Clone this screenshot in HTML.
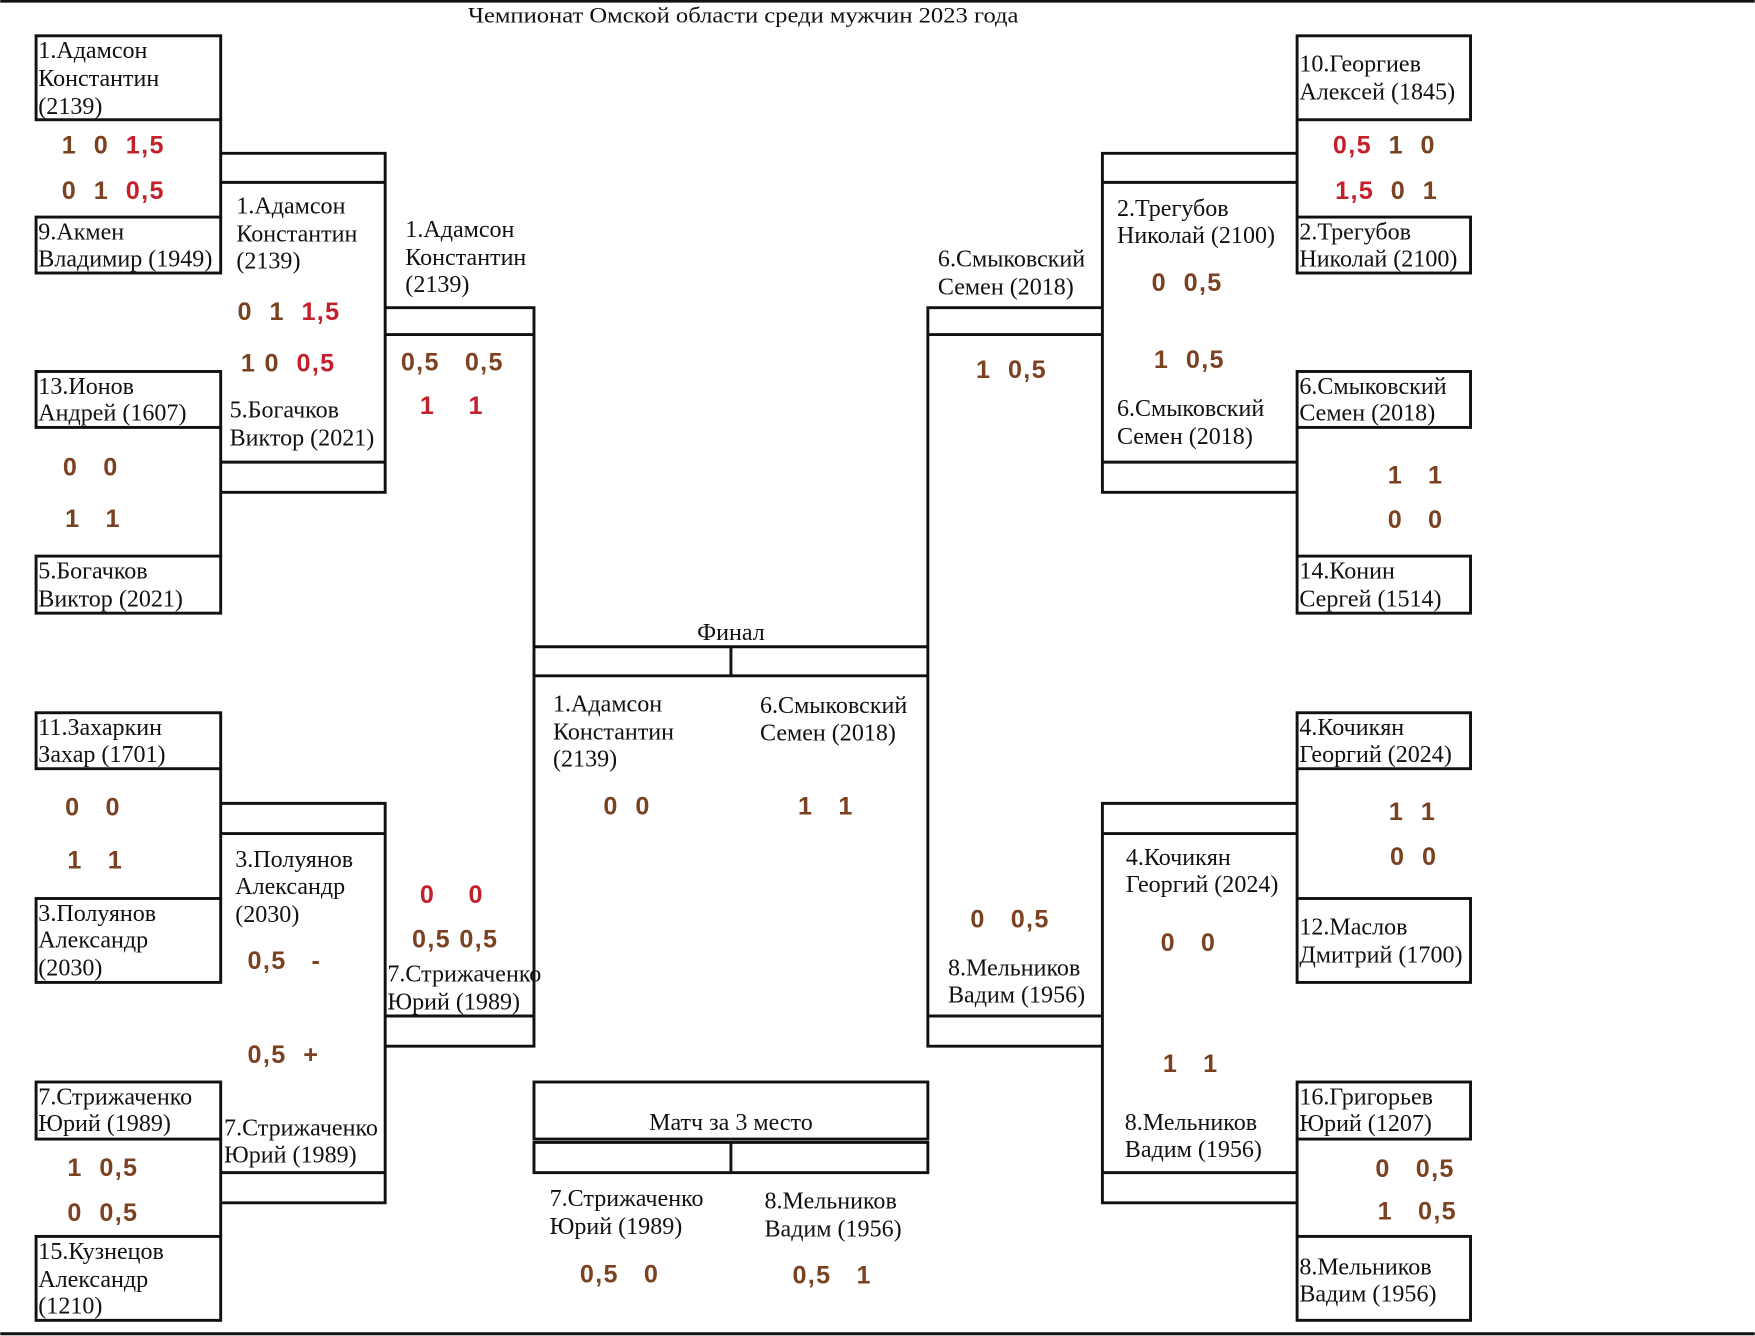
<!DOCTYPE html>
<html><head><meta charset="utf-8"><style>
html,body{margin:0;padding:0;background:#fff;}
svg{display:block;}
.n{font-family:"Liberation Serif",serif;font-size:21.5px;fill:#111;}
.s{font-family:"Liberation Sans",sans-serif;font-weight:bold;font-size:22.5px;letter-spacing:1.2px;fill:#7a4220;}
.r{fill:#c4202c;}
</style></head><body>
<svg width="1755" height="1336" viewBox="0 0 1568 1194" xmlns="http://www.w3.org/2000/svg">
<rect width="1568" height="1194" fill="#fff"/>
<g stroke="#111" stroke-width="2.6" fill="none">
<line x1="0" y1="1" x2="1568" y2="1"/>
<line x1="0" y1="1192" x2="1568" y2="1192"/>
<rect x="32" y="32" width="165" height="75"/><rect x="32" y="194" width="165" height="50"/>
<rect x="32" y="332" width="165" height="50"/><rect x="32" y="497" width="165" height="51"/>
<rect x="32" y="637" width="165" height="50"/><rect x="32" y="803" width="165" height="75"/>
<rect x="32" y="967" width="165" height="51"/><rect x="32" y="1105" width="165" height="75"/>
<line x1="197" y1="107" x2="197" y2="194"/><line x1="197" y1="382" x2="197" y2="497"/>
<line x1="197" y1="687" x2="197" y2="803"/><line x1="197" y1="1018" x2="197" y2="1105"/>
<rect x="1159" y="32" width="155" height="75"/><rect x="1159" y="194" width="155" height="50"/>
<rect x="1159" y="332" width="155" height="50"/><rect x="1159" y="497" width="155" height="51"/>
<rect x="1159" y="637" width="155" height="50"/><rect x="1159" y="803" width="155" height="75"/>
<rect x="1159" y="967" width="155" height="51"/><rect x="1159" y="1105" width="155" height="75"/>
<line x1="1159" y1="107" x2="1159" y2="194"/><line x1="1159" y1="382" x2="1159" y2="497"/>
<line x1="1159" y1="687" x2="1159" y2="803"/><line x1="1159" y1="1018" x2="1159" y2="1105"/>
<path d="M197 137H344V440H197M197 163H344M197 413H344"/>
<path d="M197 718H344V1075H197M197 745H344M197 1048H344"/>
<path d="M344 275H477V935H344M344 299H477M344 908H477"/>
<path d="M1159 137H985V440H1159M1159 163H985M1159 413H985"/>
<path d="M1159 718H985V1075H1159M1159 745H985M1159 1048H985"/>
<path d="M985 275H829V935H985M985 299H829M985 908H829"/>
<path d="M477 578H829M477 604H829M653 578V604"/>
<rect x="477" y="967" width="352" height="51"/>
<rect x="477" y="1021" width="352" height="27"/>
<line x1="653" y1="1021" x2="653" y2="1048"/>
</g>
<text class="n" x="418" y="20" textLength="492" lengthAdjust="spacingAndGlyphs" style="font-size:20px">Чемпионат Омской области среди мужчин 2023 года</text>
<text class="n" x="653" y="572" text-anchor="middle">Финал</text>
<text class="n" x="653" y="1010" text-anchor="middle">Матч за 3 место</text>
<text class="n" x="34" y="52">1.Адамсон</text><text class="n" x="34" y="77">Константин</text><text class="n" x="34" y="102">(2139)</text>
<text class="n" x="34" y="214">9.Акмен</text><text class="n" x="34" y="238">Владимир (1949)</text>
<text class="n" x="34" y="352">13.Ионов</text><text class="n" x="34" y="376">Андрей (1607)</text>
<text class="n" x="34" y="517">5.Богачков</text><text class="n" x="34" y="542">Виктор (2021)</text>
<text class="n" x="34" y="657">11.Захаркин</text><text class="n" x="34" y="681">Захар (1701)</text>
<text class="n" x="34" y="823">3.Полуянов</text><text class="n" x="34" y="847">Александр</text><text class="n" x="34" y="872">(2030)</text>
<text class="n" x="34" y="987">7.Стрижаченко</text><text class="n" x="34" y="1011">Юрий (1989)</text>
<text class="n" x="34" y="1125">15.Кузнецов</text><text class="n" x="34" y="1150">Александр</text><text class="n" x="34" y="1174">(1210)</text>
<text class="n" x="211" y="191">1.Адамсон</text><text class="n" x="211" y="216">Константин</text><text class="n" x="211" y="240">(2139)</text>
<text class="n" x="205" y="373">5.Богачков</text><text class="n" x="205" y="398">Виктор (2021)</text>
<text class="n" x="362" y="212">1.Адамсон</text><text class="n" x="362" y="237">Константин</text><text class="n" x="362" y="261">(2139)</text>
<text class="n" x="210" y="775">3.Полуянов</text><text class="n" x="210" y="799">Александр</text><text class="n" x="210" y="824">(2030)</text>
<text class="n" x="200" y="1015">7.Стрижаченко</text><text class="n" x="200" y="1039">Юрий (1989)</text>
<text class="n" x="346" y="877">7.Стрижаченко</text><text class="n" x="346" y="902">Юрий (1989)</text>
<text class="n" x="494" y="636">1.Адамсон</text><text class="n" x="494" y="661">Константин</text><text class="n" x="494" y="685">(2139)</text>
<text class="n" x="679" y="637">6.Смыковский</text><text class="n" x="679" y="662">Семен (2018)</text>
<text class="n" x="491" y="1078">7.Стрижаченко</text><text class="n" x="491" y="1103">Юрий (1989)</text>
<text class="n" x="683" y="1080">8.Мельников</text><text class="n" x="683" y="1105">Вадим (1956)</text>
<text class="n" x="1161" y="64">10.Георгиев</text><text class="n" x="1161" y="89">Алексей (1845)</text>
<text class="n" x="1161" y="214">2.Трегубов</text><text class="n" x="1161" y="238">Николай (2100)</text>
<text class="n" x="1161" y="352">6.Смыковский</text><text class="n" x="1161" y="376">Семен (2018)</text>
<text class="n" x="1161" y="517">14.Конин</text><text class="n" x="1161" y="542">Сергей (1514)</text>
<text class="n" x="1161" y="657">4.Кочикян</text><text class="n" x="1161" y="681">Георгий (2024)</text>
<text class="n" x="1161" y="835">12.Маслов</text><text class="n" x="1161" y="860">Дмитрий (1700)</text>
<text class="n" x="1161" y="987">16.Григорьев</text><text class="n" x="1161" y="1011">Юрий (1207)</text>
<text class="n" x="1161" y="1139">8.Мельников</text><text class="n" x="1161" y="1163">Вадим (1956)</text>
<text class="n" x="998" y="193">2.Трегубов</text><text class="n" x="998" y="217">Николай (2100)</text>
<text class="n" x="998" y="372">6.Смыковский</text><text class="n" x="998" y="397">Семен (2018)</text>
<text class="n" x="838" y="238">6.Смыковский</text><text class="n" x="838" y="263">Семен (2018)</text>
<text class="n" x="1006" y="773">4.Кочикян</text><text class="n" x="1006" y="797">Георгий (2024)</text>
<text class="n" x="1005" y="1010">8.Мельников</text><text class="n" x="1005" y="1034">Вадим (1956)</text>
<text class="n" x="847" y="872">8.Мельников</text><text class="n" x="847" y="896">Вадим (1956)</text>
<text class="s" x="55" y="137">1&#160;&#160;0&#160;&#160;<tspan class="r">1,5</tspan></text>
<text class="s" x="55" y="178">0&#160;&#160;1&#160;&#160;<tspan class="r">0,5</tspan></text>
<text class="s" x="212" y="286">0&#160;&#160;1&#160;&#160;<tspan class="r">1,5</tspan></text>
<text class="s" x="215" y="332">1&#160;0&#160;&#160;<tspan class="r">0,5</tspan></text>
<text class="s" x="56" y="425">0&#160;&#160;&#160;0</text>
<text class="s" x="58" y="471">1&#160;&#160;&#160;1</text>
<text class="s" x="358" y="331">0,5&#160;&#160;&#160;0,5</text>
<text class="s r" x="375" y="370">1&#160;&#160;&#160;&#160;1</text>
<text class="s" x="58" y="729">0&#160;&#160;&#160;0</text>
<text class="s" x="60" y="776">1&#160;&#160;&#160;1</text>
<text class="s r" x="375" y="807">0&#160;&#160;&#160;&#160;0</text>
<text class="s" x="368" y="847">0,5&#160;0,5</text>
<text class="s" x="221" y="866">0,5&#160;&#160;&#160;-</text>
<text class="s" x="221" y="950">0,5&#160;&#160;+</text>
<text class="s" x="60" y="1051">1&#160;&#160;0,5</text>
<text class="s" x="60" y="1091">0&#160;&#160;0,5</text>
<text class="s" x="539" y="728">0&#160;&#160;0</text>
<text class="s" x="713" y="728">1&#160;&#160;&#160;1</text>
<text class="s" x="518" y="1146">0,5&#160;&#160;&#160;0</text>
<text class="s" x="708" y="1147">0,5&#160;&#160;&#160;1</text>
<text class="s" x="1191" y="137"><tspan class="r">0,5</tspan>&#160;&#160;1&#160;&#160;0</text>
<text class="s" x="1193" y="178"><tspan class="r">1,5</tspan>&#160;&#160;0&#160;&#160;1</text>
<text class="s" x="1029" y="260">0&#160;&#160;0,5</text>
<text class="s" x="1031" y="329">1&#160;&#160;0,5</text>
<text class="s" x="872" y="338">1&#160;&#160;0,5</text>
<text class="s" x="1240" y="432">1&#160;&#160;&#160;1</text>
<text class="s" x="1240" y="472">0&#160;&#160;&#160;0</text>
<text class="s" x="1241" y="733">1&#160;&#160;1</text>
<text class="s" x="1242" y="773">0&#160;&#160;0</text>
<text class="s" x="867" y="829">0&#160;&#160;&#160;0,5</text>
<text class="s" x="1037" y="850">0&#160;&#160;&#160;0</text>
<text class="s" x="1039" y="958">1&#160;&#160;&#160;1</text>
<text class="s" x="1229" y="1052">0&#160;&#160;&#160;0,5</text>
<text class="s" x="1231" y="1090">1&#160;&#160;&#160;0,5</text>
</svg>
</body></html>
